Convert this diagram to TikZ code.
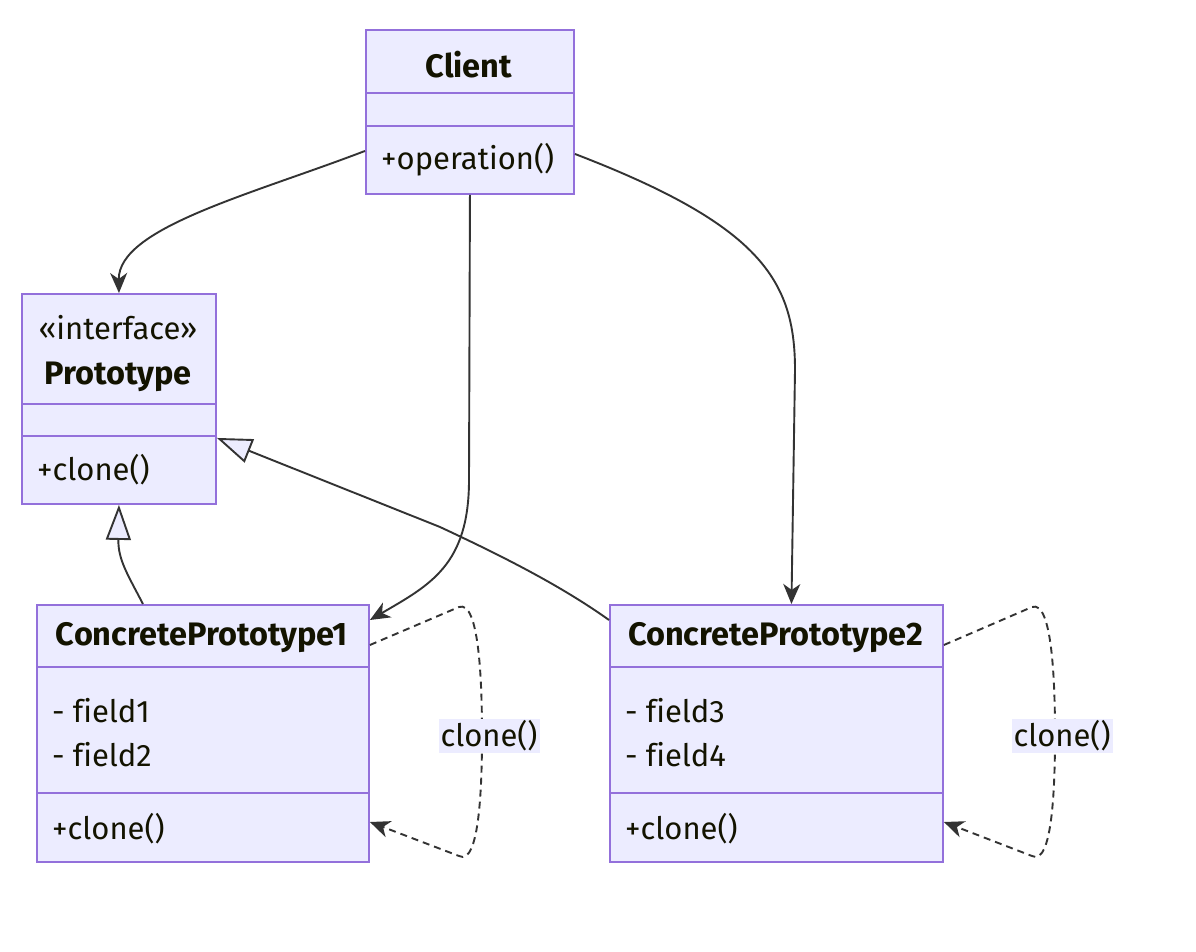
\documentclass[tikz,border=0pt]{standalone}
\usepackage{fontspec}
\setmainfont[Ligatures=NoCommon]{Fira Sans}
\usetikzlibrary{arrows.meta, calc, positioning}
\definecolor{UMLFill}{RGB}{236,236,255}
\definecolor{UMLBorder}{RGB}{147,112,219}
\definecolor{UMLLine}{RGB}{51,51,51}
\definecolor{UMLText}{RGB}{19,19,0}

\tikzset{
  classbox/.style={draw=UMLBorder, fill=UMLFill, line width=1.9pt, anchor=north west, inner sep=0pt},
  divider/.style={UMLBorder, line width=1.9pt},
  classname/.style={font=\fontsize{32.5}{38}\selectfont\bfseries, text=UMLText, inner sep=0pt},
  stereo/.style={font=\fontsize{31}{36}\selectfont, text=UMLText, inner sep=0pt},
  member/.style={font=\fontsize{31}{36}\selectfont, text=UMLText, anchor=west, inner sep=0pt},
  assoc/.style={UMLLine, line width=1.9pt, -{Stealth[length=20pt, width=17pt, inset=6pt]}},
  realize/.style={UMLLine, line width=1.9pt, -{Triangle[open, length=35pt, width=25pt, fill=UMLFill]}},
  selfloop/.style={assoc, dash pattern=on 7pt off 5pt},
  edgelabel/.style={fill=UMLFill, inner sep=2pt, font=\fontsize{31}{36}\selectfont, text=UMLText}
}

\begin{document}
\begin{tikzpicture}[x=1pt,y=-1pt]
  \path[use as bounding box] (0,0) rectangle (1196,952);
  \fill[white] (0,0) rectangle (1196,952);

  % classes
  \node[classbox, minimum width=208pt, minimum height=164pt] (client) at (365,29) {};
  \node[classbox, minimum width=194pt, minimum height=210pt] (proto) at (21,293) {};
  \node[classbox, minimum width=332pt, minimum height=257pt] (cpa) at (36,604) {};
  \node[classbox, minimum width=333pt, minimum height=257pt] (cpb) at (609,604) {};

  \draw[divider] (365,93) -- (573,93);
  \draw[divider] (365,126) -- (573,126);
  \draw[divider] (21,404) -- (215,404);
  \draw[divider] (21,436) -- (215,436);
  \foreach \lx/\rx in {36/368, 609/942}{
    \draw[divider] (\lx,667) -- (\rx,667);
    \draw[divider] (\lx,793) -- (\rx,793);
  }

  \node[classname] (client-name) at (469,65) {Client};
  \node[member] (client-op) at (381,160) {+operation()};

  \node[stereo] (proto-stereo) at (118,328) {«interface»};
  \node[classname] (proto-name) at (118,377) {Prototype};
  \node[member] (proto-op) at (37,470) {+clone()};

  \node[classname] (cpa-name) at (202,638) {ConcretePrototype1};
  \node[member] (cpa-f1) at (52,711) {- field1};
  \node[member] (cpa-f2) at (52,755) {- field2};
  \node[member] (cpa-op) at (52,829) {+clone()};

  \node[classname] (cpb-name) at (775.5,638) {ConcretePrototype2};
  \node[member] (cpb-f1) at (625,711) {- field3};
  \node[member] (cpb-f2) at (625,755) {- field4};
  \node[member] (cpb-op) at (625,829) {+clone()};

  % associations
  \draw[assoc] ([yshift=-39pt]client.west) .. controls (250,195) and (118,228) .. (proto.north);
  \draw[assoc] (client.south) -- (469,480) .. controls (469,565) and (430,585) .. ([yshift=-16pt]cpa.north east);
  \draw[assoc] ([yshift=-42pt]client.east) .. controls (760,225) and (795,280) .. (795,370) -- ([xshift=15pt]cpb.north);

  % realizations
  \draw[realize] ([xshift=-60pt]cpa.north) .. controls (128,575) and (118,560) .. (proto.south);
  \draw[realize] ([yshift=-16pt]cpb.north west) .. controls (560,585) and (500,555) .. (440,527) -- ([yshift=-39pt]proto.east);

  % self calls
  \foreach \c/\lx in {cpa/459, cpb/1032}{
    \draw[selfloop] ([yshift=-41pt]\c.north east) -- (\lx,607)
      .. controls (\lx+20,600) and (\lx+23,680) .. (\lx+23,735)
      .. controls (\lx+23,790) and (\lx+20,866) .. (\lx,856)
      -- ([yshift=-218pt]\c.north east);
  }
  \node[edgelabel] (cpa-lbl) at (489,736) {clone()};
  \node[edgelabel] (cpb-lbl) at (1062,736) {clone()};
\end{tikzpicture}
\end{document}
